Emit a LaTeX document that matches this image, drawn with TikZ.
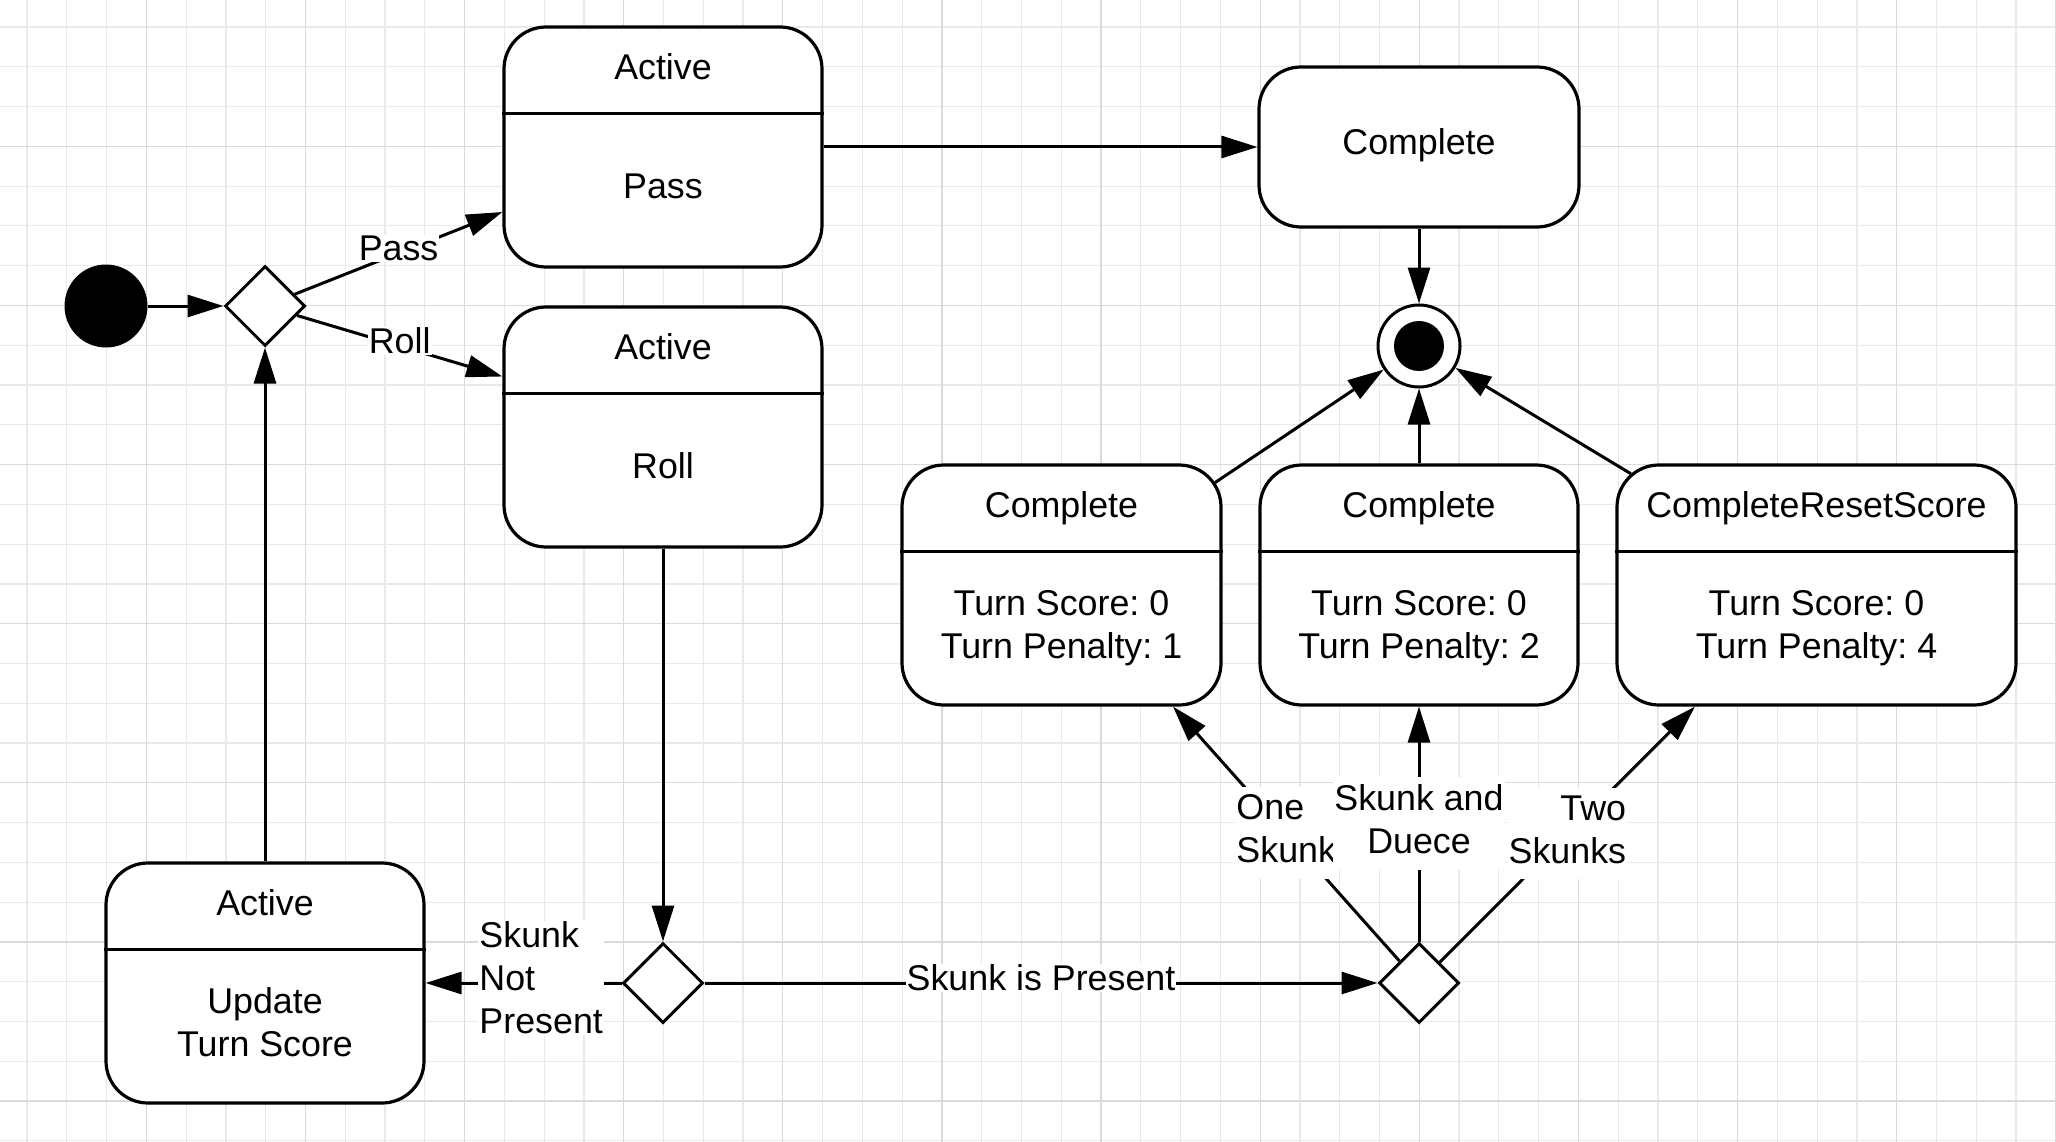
\documentclass[tikz,border=0pt]{standalone}
\usepackage{fontspec}
\setmainfont{Liberation Sans}
\usetikzlibrary{shapes.geometric,arrows.meta}
\definecolor{gridlo}{HTML}{E9E9E9}
\definecolor{gridhi}{HTML}{DADADA}
\frenchspacing

\begin{document}
\begin{tikzpicture}[x=1pt,y=-1pt,
		every node/.style={font=\fontsize{35.8}{43}\selectfont},
		state/.style={draw,line width=3.2pt,rounded corners=42pt,fill=white,minimum height=240pt,inner sep=0pt},
		choice/.style={diamond,draw,line width=3pt,fill=white,minimum width=80pt,minimum height=80pt,inner sep=0pt},
		flow/.style={line width=3pt,-{Triangle[length=36pt,width=22pt]}},
		lbl/.style={fill=white,inner sep=1pt,yshift=5pt},
		slant/.style={inner ysep=8pt,text depth=8pt,yshift=-4pt}]
		
		%Canvas and grid
		\useasboundingbox (0,0) rectangle (2056,1142);
		\fill[white] (0,0) rectangle (2056,1142);
		\foreach \g in {27,66.78,...,2056} \draw[gridlo,line width=1.2pt] (\g,0) -- (\g,1142);
		\foreach \g in {27,66.78,...,1142} \draw[gridlo,line width=1.2pt] (0,\g) -- (2056,\g);
		\foreach \g in {146.34,305.46,...,2056} \draw[gridhi,line width=1.2pt] (\g,0) -- (\g,1142);
		\foreach \g in {146.34,305.46,...,1142} \draw[gridhi,line width=1.2pt] (0,\g) -- (2056,\g);
		
		%Start, choices and end
		\node[circle,fill=black,minimum size=83pt,inner sep=0pt] (init) at (106,306) {};
		\node[choice] (d1) at (265,306) {};
		\node[choice] (d2) at (663,983) {};
		\node[choice] (d3) at (1419,983) {};
		\node[circle,draw,line width=3pt,fill=white,minimum size=82pt,inner sep=0pt] (final) at (1419,346) {};
		\node[circle,fill=black,minimum size=50pt,inner sep=0pt] (finalDot) at (final) {};
		
		%States with a title and a body
		\foreach \nm/\cx/\cy/\bw/\ttl/\bdy in {
				pass/663/147/318/Active/Pass,
				roll/663/427/318/Active/Roll,
				upd/265/983/318/Active/{Update\\Turn Score},
				cA/1061.5/585/319/Complete/{Turn Score: 0\\Turn Penalty: 1},
				cB/1419/585/318/Complete/{Turn Score: 0\\Turn Penalty: 2},
				cC/1816.5/585/399/CompleteResetScore/{Turn Score: 0\\Turn Penalty: 4}}{
			\node[state,minimum width=\bw pt] (\nm) at (\cx,\cy) {};
			\draw[line width=3.2pt] ([yshift=-88pt]\nm.north west) -- ([yshift=-88pt]\nm.north east);
			\node[anchor=base] (\nm Title) at ([yshift=-54pt]\nm.north) {\ttl};
			\node[align=center,text depth=0pt] (\nm Body) at ([yshift=-39pt]\nm.center) {\bdy};
		}
		\node[state,minimum width=320pt,minimum height=160pt,text depth=11.5pt] (done) at (1419,147) {Complete};
		
		%Transitions
		\draw[flow] (init) -- (d1);
		\draw[flow] (d1) -- node[lbl] {Pass} ([yshift=-65pt]pass.west);
		\draw[flow] (d1) -- node[lbl] {Roll} ([yshift=50.5pt]roll.west);
		\draw[flow] (pass) -- (done);
		\draw[flow] (done) -- (final);
		\draw[flow,shorten <=-9pt] (cA) -- (final);
		\draw[flow] (cB) -- (final);
		\draw[flow,shorten <=-18pt] (cC) -- (final);
		\draw[flow] (roll) -- (d2);
		\draw[flow] (d2) -- node[lbl,pos=0.41,align=left] {Skunk\\Not\\Present} (upd);
		\draw[flow] (d2) -- node[lbl] {Skunk is Present} (d3);
		\draw[flow] (d3) -- node[lbl,slant,align=left] {One\\Skunk} ([xshift=111.5pt]cA.south);
		\draw[flow] (d3) -- node[lbl,slant,align=center] {Skunk and\\Duece} (cB);
		\draw[flow] (d3) -- node[lbl,slant,align=right] {Two\\Skunks} ([xshift=-121.5pt]cC.south);
		\draw[flow] (upd) -- (d1);
	\end{tikzpicture}
\end{document}
